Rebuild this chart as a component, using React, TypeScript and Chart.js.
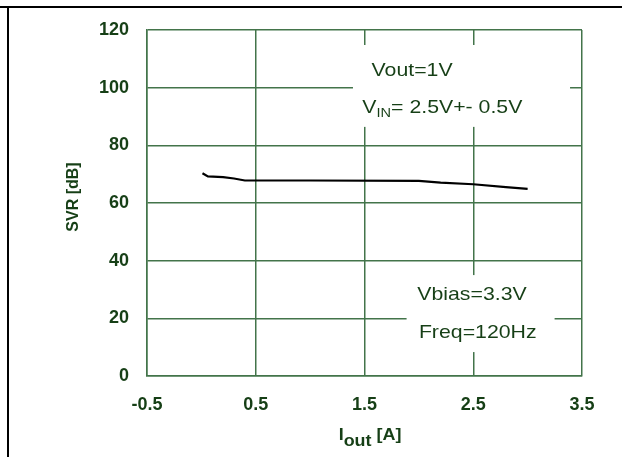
import React, { useEffect, useRef } from "react";
import { Chart, registerables } from "chart.js";

Chart.register(...registerables);

// Data
const ioutA = [0.01, 0.06, 0.2, 0.3, 0.4, 1.0, 2.0, 2.2, 2.5, 2.8, 3.0];
const svrDb = [70.3, 69.2, 69.0, 68.5, 67.8, 67.8, 67.7, 67.1, 66.5, 65.5, 64.9];
const xTicks = [-0.5, 0.5, 1.5, 2.5, 3.5];
const yTicks = [0, 20, 40, 60, 80, 100, 120];
const noteTop = ["Vout=1V", "V|IN|= 2.5V+- 0.5V"];
const noteBottom = ["Vbias=3.3V", "Freq=120Hz"];

const GREEN_TEXT = "#163f16";
const GRID = "#43744a";
const FONT = '"Liberation Sans", Arial, sans-serif';
const STRETCH = 1.12;

export default function App() {
  const ref = useRef<HTMLCanvasElement | null>(null);

  useEffect(() => {
    if (!ref.current) return;

    const notesPlugin = {
      id: "notes",
      afterDraw(chart: any) {
        const { ctx, scales } = chart;
        const xs = scales.x;
        const ys = scales.y;
        ctx.save();
        const box = (x0: number, x1: number, y0: number, y1: number) => {
          const px0 = xs.getPixelForValue(x0);
          const px1 = xs.getPixelForValue(x1);
          const py0 = ys.getPixelForValue(y0);
          const py1 = ys.getPixelForValue(y1);
          ctx.fillStyle = "#ffffff";
          ctx.fillRect(px0, py0, px1 - px0, py1 - py0);
        };
        box(1.394, 3.39, 114.8, 86.4);
        box(1.887, 3.248, 35.0, 8.3);

        ctx.fillStyle = GREEN_TEXT;
        ctx.textBaseline = "middle";
        ctx.textAlign = "left";
        const drawRich = (s: string, x: number, y: number, size: number, weight = "") => {
          const parts = s.split("|");
          ctx.save();
          ctx.translate(x, y);
          ctx.scale(STRETCH, 1);
          let cx = 0;
          parts.forEach((p, i) => {
            const sub = i % 2 === 1;
            ctx.font = `${weight} ${sub ? Math.round(size * 0.68) : size}px ${FONT}`;
            ctx.fillText(p, cx, sub ? size * 0.3 : 0);
            cx += ctx.measureText(p).width;
          });
          ctx.restore();
        };
        const fs = 19;
        drawRich(noteTop[0], xs.getPixelForValue(1.565), ys.getPixelForValue(106), fs);
        drawRich(noteTop[1], xs.getPixelForValue(1.48), ys.getPixelForValue(93), fs);
        drawRich(noteBottom[0], xs.getPixelForValue(1.985), ys.getPixelForValue(28.1), fs);
        drawRich(noteBottom[1], xs.getPixelForValue(2.0), ys.getPixelForValue(15), fs);

        // y title
        const ca = chart.chartArea;
        ctx.font = `bold 16px ${FONT}`;
        ctx.textAlign = "center";
        ctx.textBaseline = "middle";
        ctx.save();
        ctx.translate(74, (ca.top + ca.bottom) / 2 - 6);
        ctx.rotate(-Math.PI / 2);
        ctx.fillText("SVR [dB]", 0, 0);
        ctx.restore();

        // x title with subscript
        ctx.textAlign = "left";
        ctx.textBaseline = "alphabetic";
        const pieces: [string, number, number][] = [
          ["I", 16, 0],
          ["out", 16, 6],
          [" [A]", 16, 0],
        ];
        let total = 0;
        pieces.forEach(([t, s]) => {
          ctx.font = `bold ${s}px ${FONT}`;
          total += ctx.measureText(t).width * STRETCH;
        });
        const base = ca.bottom + 64;
        ctx.save();
        ctx.translate(370 - total / 2, base);
        ctx.scale(STRETCH, 1);
        let cx = 0;
        pieces.forEach(([t, s, dy]) => {
          ctx.font = `bold ${s}px ${FONT}`;
          ctx.fillText(t, cx, dy);
          cx += ctx.measureText(t).width;
        });
        ctx.restore();
        ctx.restore();
      },
    };

    const tickFont = { family: FONT, size: 18, weight: "bold" as const };

    const chart = new Chart(ref.current, {
      type: "line",
      data: {
        datasets: [
          {
            data: ioutA.map((x, i) => ({ x, y: svrDb[i] })),
            borderColor: "#000000",
            borderWidth: 2.2,
            pointRadius: 0,
            tension: 0,
            fill: false,
          },
        ],
      },
      options: {
        animation: false,
        responsive: false,
        maintainAspectRatio: false,
        layout: { padding: { left: 0, top: 30, right: 40, bottom: 0 } },
        plugins: { legend: { display: false }, tooltip: { enabled: false } },
        scales: {
          x: {
            type: "linear",
            min: xTicks[0],
            max: xTicks[xTicks.length - 1],
            afterFit: (s: any) => {
              s.height = 81;
            },
            afterBuildTicks: (s: any) => {
              s.ticks = xTicks.map((v) => ({ value: v }));
            },
            ticks: {
              padding: 18,
              color: GREEN_TEXT,
              font: tickFont,
              callback: (v: any) => Number(v).toFixed(1),
              maxRotation: 0,
            },
            grid: { color: GRID, lineWidth: 1.5, drawTicks: false },
            border: { color: GRID, width: 1.5 },
          },
          y: {
            type: "linear",
            min: yTicks[0],
            max: yTicks[yTicks.length - 1],
            afterFit: (s: any) => {
              s.width = 147;
            },
            afterBuildTicks: (s: any) => {
              s.ticks = yTicks.map((v) => ({ value: v }));
            },
            ticks: {
              padding: 18,
              color: GREEN_TEXT,
              font: tickFont,
              callback: (v: any) => String(v),
            },
            grid: { color: GRID, lineWidth: 1.5, drawTicks: false },
            border: { color: GRID, width: 1.5 },
          },
        },
      },
      plugins: [notesPlugin],
    });
    return () => chart.destroy();
  }, []);

  return (
    <div style={{ position: "fixed", left: 0, top: 0, width: 622, height: 457, background: "#fff" }}>
      <canvas ref={ref} width={622} height={457} style={{ position: "absolute", left: 0, top: 0 }} />
      <div style={{ position: "absolute", left: 0, top: 6, width: 622, height: 2, background: "#000" }} />
      <div style={{ position: "absolute", left: 7, top: 6, width: 2, height: 451, background: "#000" }} />
    </div>
  );
}
